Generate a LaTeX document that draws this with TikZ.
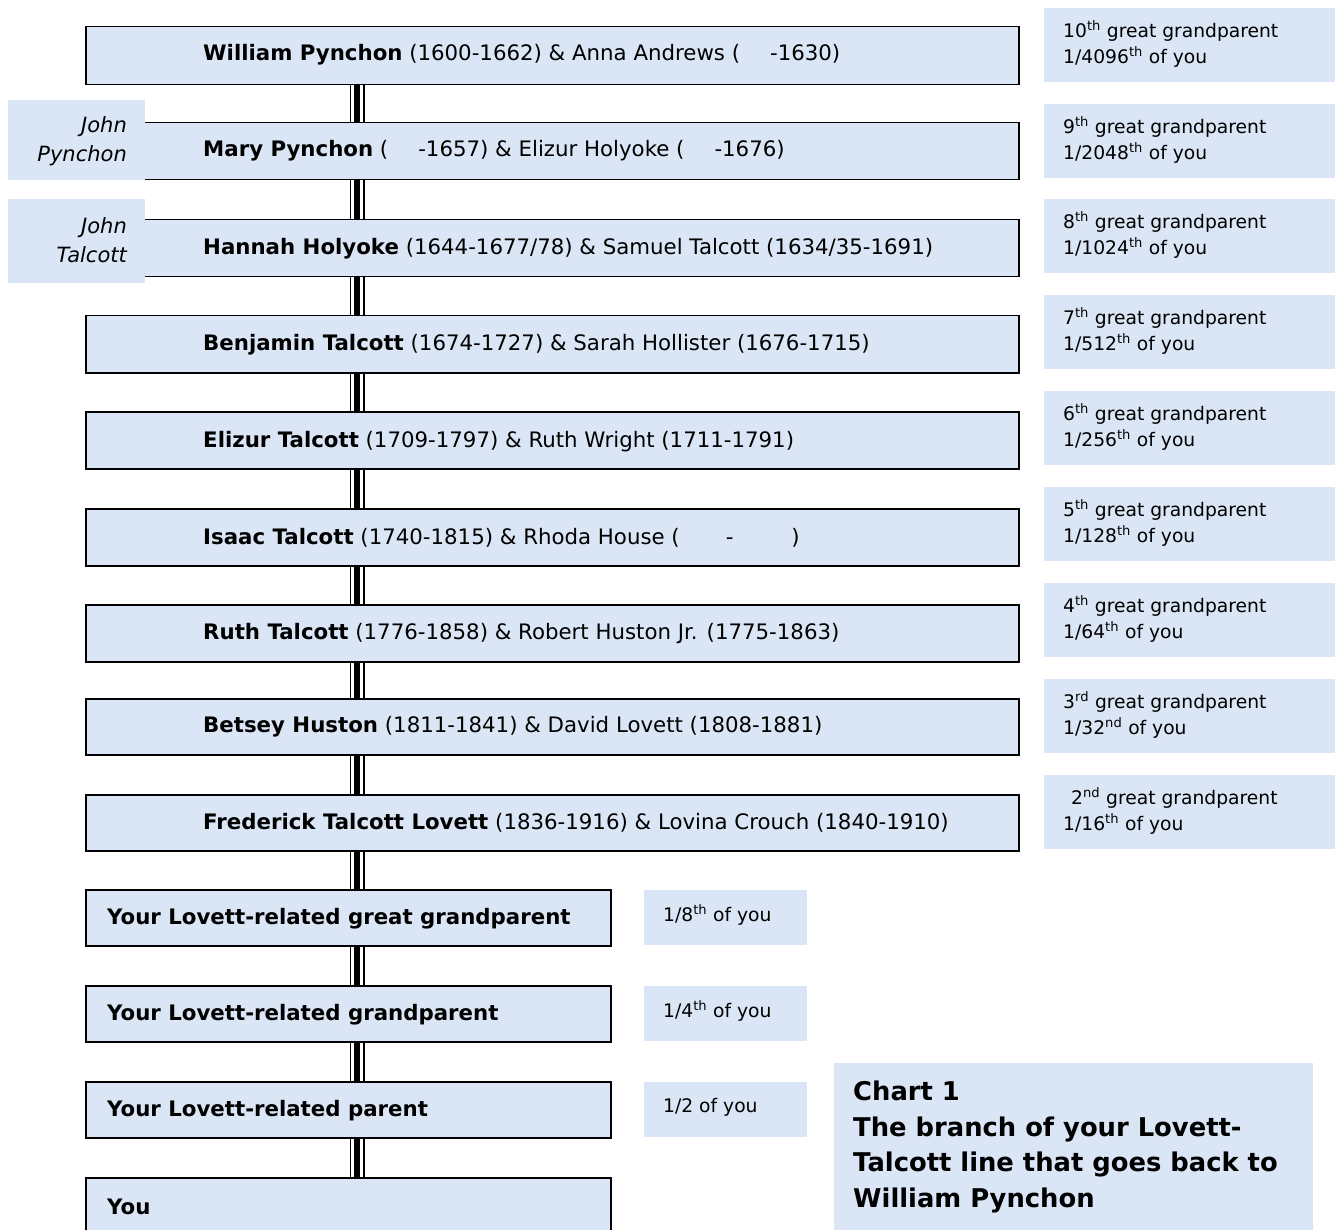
\documentclass[tikz,border=0pt]{standalone}
\usepackage{fontspec}
\setmainfont{DejaVu Sans}
\definecolor{paper}{RGB}{218,230,245}
\begin{document}
\begin{tikzpicture}[x=1pt,y=-1pt,
  mainbox/.style={draw=black, line width=1.5pt, fill=paper, anchor=north west, inner sep=0pt},
  sidebox/.style={fill=paper, anchor=north west, inner sep=0pt},
  txt/.style={anchor=west, inner sep=0pt, font=\fontsize{21.3}{25}\selectfont},
  stxt/.style={anchor=west, inner sep=0pt, font=\fontsize{18.7}{22}\selectfont},
  itxt/.style={anchor=east, inner sep=0pt, align=right, font=\fontsize{21}{29}\selectfont\itshape},
  ttxt/.style={anchor=north west, inner sep=0pt, align=left, font=\fontsize{25.8}{35.5}\selectfont\bfseries},
  conn/.style={line width=15pt, black, postaction={draw=white, line width=12pt}, postaction={draw=black, line width=6pt}}
]
\useasboundingbox (0,0) rectangle (1335,1230);
\clip (0,0) rectangle (1335,1230);
\coordinate (cx) at (357,0);
% main boxes
\node[mainbox, minimum width=933pt, minimum height=58pt] (b1) at (85,26) {};
\node[mainbox, minimum width=933pt, minimum height=57pt] (b2) at (85,122) {};
\node[mainbox, minimum width=933pt, minimum height=57pt] (b3) at (85,219) {};
\node[mainbox, minimum width=933pt, minimum height=57pt] (b4) at (85,315) {};
\node[mainbox, minimum width=933pt, minimum height=57pt] (b5) at (85,411) {};
\node[mainbox, minimum width=933pt, minimum height=57pt] (b6) at (85,508) {};
\node[mainbox, minimum width=933pt, minimum height=57pt] (b7) at (85,604) {};
\node[mainbox, minimum width=933pt, minimum height=56pt] (b8) at (85,698) {};
\node[mainbox, minimum width=933pt, minimum height=56pt] (b9) at (85,794) {};
\node[mainbox, minimum width=525pt, minimum height=56pt] (b10) at (85,889) {};
\node[mainbox, minimum width=525pt, minimum height=56pt] (b11) at (85,985) {};
\node[mainbox, minimum width=525pt, minimum height=56pt] (b12) at (85,1081) {};
\node[mainbox, minimum width=525pt, minimum height=80pt] (b13) at (85,1177) {};
% connectors
\foreach \a/\b in {b1/b2,b2/b3,b3/b4,b4/b5,b5/b6,b6/b7,b7/b8,b8/b9,b9/b10,b10/b11,b11/b12,b12/b13}
  \draw[conn] (\a.south -| cx) -- (\b.north -| cx);
% main texts
\node[txt] (t1) at (203,55) {\textbf{William Pynchon} (1600-1662) \& Anna Andrews (\hspace{30pt}-1630)};
\node[txt] (t2) at (203,151) {\textbf{Mary Pynchon} (\hspace{30pt}-1657) \& Elizur Holyoke (\hspace{30pt}-1676)};
\node[txt] (t3) at (203,249) {\textbf{Hannah Holyoke} (1644-1677/78) \& Samuel Talcott (1634/35-1691)};
\node[txt] (t4) at (203,345) {\textbf{Benjamin Talcott} (1674-1727) \& Sarah Hollister (1676-1715)};
\node[txt] (t5) at (203,442) {\textbf{Elizur Talcott} (1709-1797) \& Ruth Wright (1711-1791)};
\node[txt] (t6) at (203,538) {\textbf{Isaac Talcott} (1740-1815) \& Rhoda House (\hspace{46pt}-\hspace{58pt})};
\node[txt] (t7) at (203,634) {\textbf{Ruth Talcott} (1776-1858) \& Robert Huston Jr. (1775-1863)};
\node[txt] (t8) at (203,727) {\textbf{Betsey Huston} (1811-1841) \& David Lovett (1808-1881)};
\node[txt] (t9) at (203,823) {\textbf{Frederick Talcott Lovett} (1836-1916) \& Lovina Crouch (1840-1910)};
\node[txt] (t10) at (107,919) {\textbf{Your Lovett-related great grandparent}};
\node[txt] (t11) at (107,1015) {\textbf{Your Lovett-related grandparent}};
\node[txt] (t12) at (107,1111) {\textbf{Your Lovett-related parent}};
\node[txt] (t13) at (107,1207) {\textbf{You}};
% left label boxes
\node[sidebox, minimum width=137pt, minimum height=80pt] (l1) at (8,100) {};
\node[itxt] (lt1) at (127,141) {John\\Pynchon};
\node[sidebox, minimum width=137pt, minimum height=84pt] (l2) at (8,199) {};
\node[itxt] (lt2) at (127,240) {John\\Talcott};
% right boxes
\foreach \n/\y/\g/\s/\f/\t in {r1/8/10/th/4096/th, r2/104/9/th/2048/th, r3/199/8/th/1024/th, r4/295/7/th/512/th, r5/391/6/th/256/th, r6/487/5/th/128/th, r7/583/4/th/64/th, r8/679/3/rd/32/nd}{
  \node[sidebox, minimum width=300pt, minimum height=74pt] (\n) at (1044,\y) {};
  \node[stxt] (\n a) at (1063,\y+23) {\g\textsuperscript{\s} great grandparent};
  \node[stxt] (\n b) at (1063,\y+49) {1/\f\textsuperscript{\t} of you};
}
\node[sidebox, minimum width=300pt, minimum height=74pt] (r9) at (1044,775) {};
\node[stxt] (r9a) at (1071,798) {2\textsuperscript{nd} great grandparent};
\node[stxt] (r9b) at (1063,824) {1/16\textsuperscript{th} of you};
% small boxes
\node[sidebox, minimum width=163pt, minimum height=55pt] (s1) at (644,890) {};
\node[stxt] (s1t) at (663,915) {1/8\textsuperscript{th} of you};
\node[sidebox, minimum width=163pt, minimum height=55pt] (s2) at (644,986) {};
\node[stxt] (s2t) at (663,1011) {1/4\textsuperscript{th} of you};
\node[sidebox, minimum width=163pt, minimum height=55pt] (s3) at (644,1082) {};
\node[stxt] (s3t) at (663,1107) {1/2 of you};
% chart title
\node[sidebox, minimum width=479pt, minimum height=180pt] (c) at (834,1063) {};
\node[ttxt] (ct) at (853,1081) {Chart 1\\The branch of your Lovett-\\Talcott line that goes back to\\William Pynchon};
\end{tikzpicture}
\end{document}
